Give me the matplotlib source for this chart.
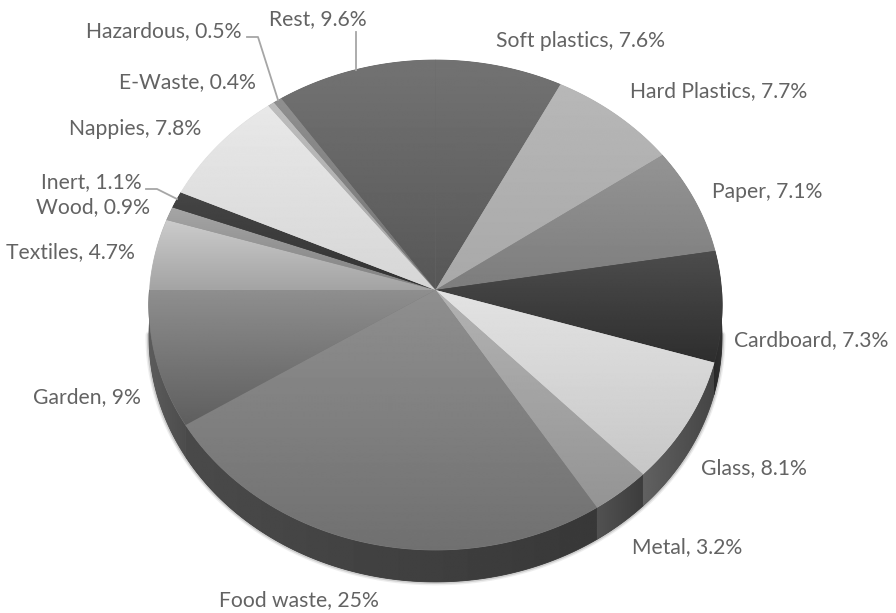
import numpy as np
import matplotlib
matplotlib.use("Agg")
import matplotlib.pyplot as plt
from matplotlib.patches import Polygon

plt.rcParams['font.family'] = ['Lato', 'DejaVu Sans']

# Share of each waste stream, clockwise from the first slice
categories = ["Rest", "Soft plastics", "Hard Plastics", "Paper", "Cardboard", "Glass", "Metal",
              "Food waste", "Garden", "Textiles", "Wood", "Inert", "Nappies", "E-Waste", "Hazardous"]
shares = [9.6, 7.6, 7.7, 7.1, 7.3, 8.1, 3.2, 25, 9, 4.7, 0.9, 1.1, 7.8, 0.4, 0.5]

# Grey levels for the top face (upper, lower end of the gradient)
face_top = [0.45, 0.45, 0.72, 0.58, 0.30, 0.89, 0.70, 0.56, 0.56, 0.80, 0.65, 0.27, 0.91, 0.74, 0.56]
face_bottom = [0.34, 0.34, 0.66, 0.49, 0.18, 0.78, 0.58, 0.44, 0.37, 0.64, 0.50, 0.20, 0.84, 0.64, 0.45]
# Grey levels for the side wall (left, right end of the gradient)
wall_left = [0.3] * 4 + [0.16, 0.38, 0.32, 0.29, 0.36, 0.3, 0.3, 0.3, 0.3, 0.3, 0.3]
wall_right = [0.3] * 4 + [0.2, 0.27, 0.24, 0.22, 0.30, 0.3, 0.3, 0.3, 0.3, 0.3, 0.3]

# Label centres in pixels
label_x = [317.5, 580.5, 718.5, 767.5, 811.5, 753.5, 687.5, 299, 86.5, 70, 92.5, 91, 135, 187, 164]
label_y = [19, 41, 91, 192, 340, 468, 547, 600, 397, 252, 207, 182, 129, 82, 31]

# Leader lines for the labels that sit away from their slice
leaders = [([356, 356], [32, 70]),
           ([247, 258, 278], [37, 37, 100]),
           ([146, 157, 177], [189, 189, 199])]

START_DEG = -34.5  # where Rest begins, clockwise from north
CX, CY = 435.5, 290
RX, RY, TILT = 286, 244, 0.0612
DEPTH = 32


def tilt(u, v):
    """Projects a point of the unit disc onto the tilted pie, in pixels."""
    d = 1 + TILT * v
    return CX + RX * u / d, CY - RY * v / d


def arc(a0, a1):
    t = np.radians(np.linspace(a0, a1, max(int(a1 - a0) * 2, 2) + 1))
    return tilt(np.sin(t), np.cos(t))


def gradient_fill(ax, xs, ys, c0, c1, z, horizontal=False):
    # solid polygons all go below the gradients so neighbouring slices leave no seam
    mid = str((c0 + c1) / 2)
    poly = Polygon(np.column_stack([xs, ys]), closed=True, facecolor=mid, edgecolor=mid, linewidth=0.6, zorder=z)
    ax.add_patch(poly)
    ramp = np.linspace(c0, c1, 256)
    ramp = ramp.reshape(1, -1) if horizontal else ramp.reshape(-1, 1)
    im = ax.imshow(ramp, cmap="gray", vmin=0, vmax=1, aspect="auto", origin="upper",
                   extent=(min(xs), max(xs), max(ys), min(ys)), interpolation="bilinear", zorder=z + 0.1)
    im.set_clip_path(poly)


fig = plt.figure(figsize=(8.96, 6.13), dpi=100)
ax = fig.add_axes([0, 0, 1, 1])

edges = START_DEG + np.concatenate([[0], np.cumsum(shares)]) * 3.6

# Thin soft edge round the outside of the wall, widest stroke first
x, y = arc(93, 267)
for lw, alpha in [(5, 0.12), (3, 0.25)]:
    ax.plot(x, y + DEPTH, color="0.45", linewidth=lw, alpha=alpha, solid_capstyle="round", zorder=0.5)

# Side wall: only the stretch of each slice along the front of the pie
for i in range(len(shares)):
    a0, a1 = max(edges[i], 90), min(edges[i + 1], 270)
    if a1 <= a0:
        continue
    x, y = arc(a0, a1)
    xs = np.concatenate([x, x[::-1]])
    ys = np.concatenate([y, y[::-1] + DEPTH])
    gradient_fill(ax, xs, ys, wall_left[i], wall_right[i], 0.6, horizontal=True)

# Top face
for i in range(len(shares)):
    x, y = arc(edges[i], edges[i + 1])
    xs = np.concatenate([[CX], x])
    ys = np.concatenate([[CY], y])
    gradient_fill(ax, xs, ys, face_top[i], face_bottom[i], 1)

for lx, ly in leaders:
    ax.plot(lx, ly, color="#a6a6a6", linewidth=1.3)

for name, share, tx, ty in zip(categories, shares, label_x, label_y):
    ax.text(tx, ty, f"{name}, {share:g}%", ha="center", va="center", fontsize=15.2, color="#636363")

ax.set_xlim(0, 896)
ax.set_ylim(613, 0)
ax.axis("off")
fig.savefig("out.png", dpi=100)
